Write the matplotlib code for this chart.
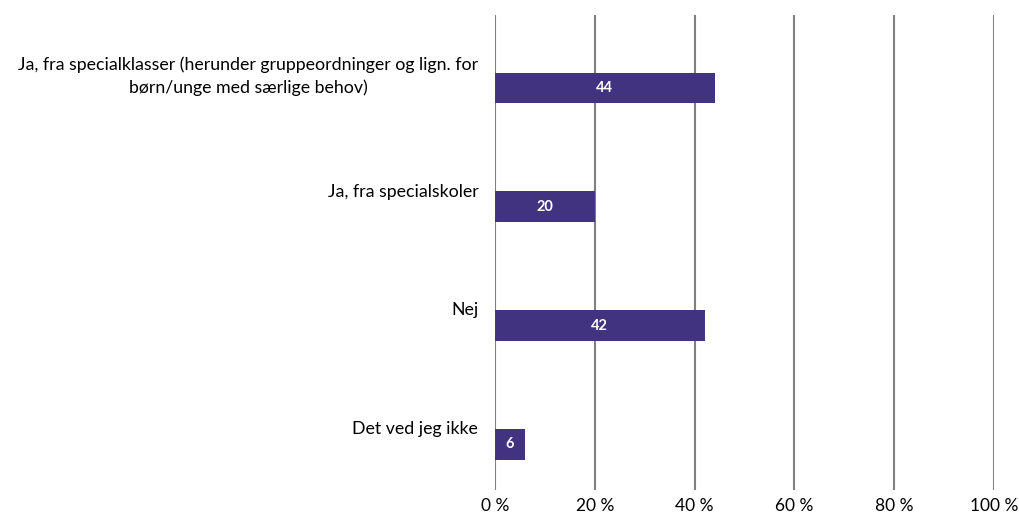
import numpy as np
import matplotlib.pyplot as plt

plt.rcParams['font.family'] = ['Lato', 'DejaVu Sans']

categories = [
    'Ja, fra specialklasser (herunder gruppeordninger og lign. for\nbørn/unge med særlige behov)',
    'Ja, fra specialskoler',
    'Nej',
    'Det ved jeg ikke',
]
values = [44, 20, 42, 6]
xticks = [0, 20, 40, 60, 80, 100]
xtick_labels = ['0 %', '20 %', '40 %', '60 %', '80 %', '100 %']

bar_color = '#41337f'
grid_color = '#808080'

fig = plt.figure(figsize=(10.19, 5.17), dpi=100)
ax = fig.add_axes([495 / 1019, 1 - 490 / 517, 499 / 1019, 475 / 517])

pos = np.arange(len(categories))
bars = ax.barh(pos + 0.14, values, height=0.26, color=bar_color, zorder=3)

for b, v in zip(bars, values):
    ax.text(b.get_x() + b.get_width() / 2, b.get_y() + b.get_height() / 2, str(v),
            ha='center', va='center', color='white', fontsize=10.5, fontweight='bold', zorder=4)

ax.set_xlim(0, 100)
ax.set_ylim(len(categories) - 0.475, -0.475)
ax.set_xticks(xticks)
ax.set_xticklabels(xtick_labels, fontsize=12.5)
ax.set_yticks(pos)
ax.set_yticklabels(categories, fontsize=12.8, multialignment='center', linespacing=1.45)

ax.tick_params(axis='y', length=0, pad=12)
ax.tick_params(axis='x', length=0, pad=6)
ax.grid(axis='x', color=grid_color, linewidth=1.5, zorder=0)
for s in ax.spines.values():
    s.set_visible(False)

fig.savefig('out.png', dpi=100)
